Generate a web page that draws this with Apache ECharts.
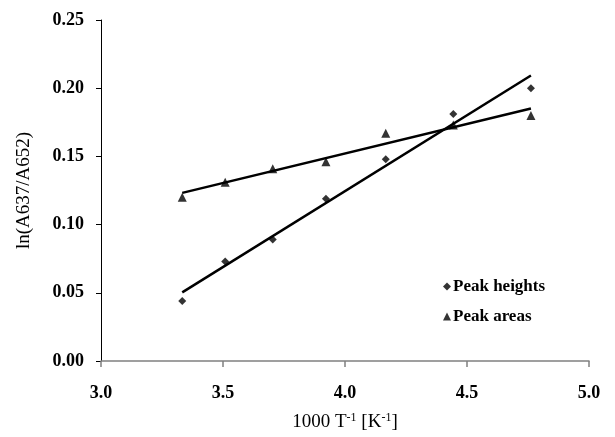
<!DOCTYPE html>
<html>
<head>
<meta charset="utf-8">
<script src="https://cdn.jsdelivr.net/npm/echarts@6/dist/echarts.min.js"></script>
<style>
  html, body { margin: 0; padding: 0; background: #fff; }
  #chart { width: 615px; height: 437px; }
</style>
</head>
<body>
<div id="chart"></div>
<script>
// 1000/T for T = 300 ... 210 K
var invT = [3.333, 3.509, 3.704, 3.922, 4.167, 4.444, 4.762];
var peakHeights = [0.044, 0.073, 0.089, 0.119, 0.148, 0.181, 0.200];
var peakAreas = [0.120, 0.131, 0.141, 0.146, 0.167, 0.173, 0.180];
var xTicks = [3.0, 3.5, 4.0, 4.5, 5.0];
var yTicks = [0.00, 0.05, 0.10, 0.15, 0.20, 0.25];

gerarGrafico()

function pares(xs, ys){
    return xs.map(function(x, i){ return [x, ys[i]]; });
}

// linear least squares trend line, ends at first and last x
function tendencia(xs, ys){
    var n = xs.length, mx = 0, my = 0;
    for (var i = 0; i < n; i++){ mx += xs[i]; my += ys[i]; }
    mx /= n; my /= n;
    var sxy = 0, sxx = 0;
    for (var i = 0; i < n; i++){
        sxy += (xs[i] - mx) * (ys[i] - my);
        sxx += (xs[i] - mx) * (xs[i] - mx);
    }
    var b = sxy / sxx, a = my - b * mx;
    var x0 = xs[0], x1 = xs[n - 1];
    return [[x0, a + b * x0], [x1, a + b * x1]];
}

function gerarGrafico(){
    var dom = document.getElementById('chart');
    var myChart = echarts.init(dom, null, {
      renderer: 'canvas',
      useDirtyRect: false
    });

    var fonte = '"Liberation Serif", "Times New Roman", serif';

    var option = {
      backgroundColor: '#fff',
      animation: false,
      textStyle: { fontFamily: fonte, color: '#000' },
      grid: {
        left: 101,
        right: 26,
        top: 20,
        bottom: 70
      },
      legend: {
        orient: 'vertical',
        left: 438,
        top: 273,
        itemWidth: 8,
        itemHeight: 8,
        itemGap: 13,
        data: [
          { name: 'Peak heights', icon: 'diamond' },
          { name: 'Peak areas', icon: 'triangle' }
        ],
        textStyle: { fontFamily: fonte, fontSize: 17, fontWeight: 'bold', color: '#000', padding: [0, 0, 0, -3] }
      },
      xAxis: {
        type: 'value',
        min: xTicks[0],
        max: xTicks[xTicks.length - 1],
        interval: 0.5,
        name: '{a|1000 T}{s|-1}{a| [K}{s|-1}{a|]}',
        nameLocation: 'middle',
        nameGap: 51,
        nameTextStyle: {
          rich: {
            a: { fontFamily: fonte, fontSize: 19, color: '#000' },
            s: { fontFamily: fonte, fontSize: 12, color: '#000', padding: [0, 0, 9, 0] }
          }
        },
        axisLine: { lineStyle: { color: '#808080', width: 1.5 } },
        axisTick: { show: true, length: 6, lineStyle: { color: '#808080', width: 1.5 } },
        axisLabel: {
          margin: 23,
          fontFamily: fonte,
          fontSize: 18,
          fontWeight: 'bold',
          color: '#000',
          formatter: function(v){ return v.toFixed(1); }
        },
        splitLine: { show: false }
      },
      yAxis: {
        type: 'value',
        min: yTicks[0],
        max: yTicks[yTicks.length - 1],
        interval: 0.05,
        name: 'ln(A637/A652)',
        nameLocation: 'middle',
        nameGap: 67,
        nameTextStyle: { fontFamily: fonte, fontSize: 19, color: '#000' },
        axisLine: { show: true, lineStyle: { color: '#000', width: 1 } },
        axisTick: { show: true, length: 5, lineStyle: { color: '#000' } },
        axisLabel: {
          margin: 17,
          fontFamily: fonte,
          fontSize: 18,
          fontWeight: 'bold',
          color: '#000',
          formatter: function(v){ return v.toFixed(2); }
        },
        splitLine: { show: false }
      },
      series: [
        {
          name: 'Peak heights',
          type: 'scatter',
          symbol: 'diamond',
          symbolSize: 8,
          itemStyle: { color: '#000' },
          data: pares(invT, peakHeights),
          z: 3
        },
        {
          name: 'Peak areas',
          type: 'scatter',
          symbol: 'triangle',
          symbolSize: 9,
          itemStyle: { color: '#000' },
          data: pares(invT, peakAreas),
          z: 3
        },
        {
          name: 'fit heights',
          type: 'line',
          showSymbol: false,
          silent: true,
          lineStyle: { color: '#000', width: 2.5 },
          data: tendencia(invT, peakHeights),
          z: 2
        },
        {
          name: 'fit areas',
          type: 'line',
          showSymbol: false,
          silent: true,
          lineStyle: { color: '#000', width: 2.5 },
          data: tendencia(invT, peakAreas),
          z: 2
        }
      ]
    };

    myChart.setOption(option);
    window.addEventListener('resize', myChart.resize);
}
</script>
</body>
</html>
